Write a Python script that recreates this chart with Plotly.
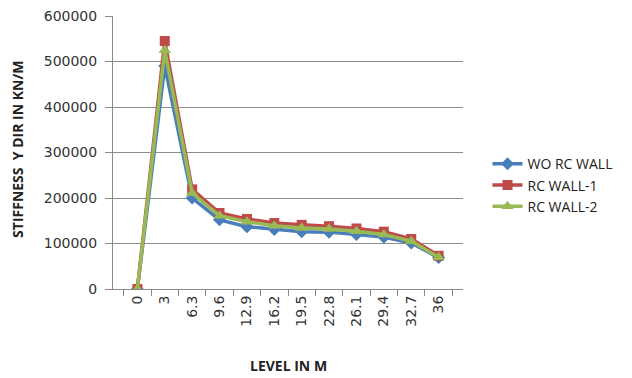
import plotly.graph_objects as go

levels = ["0", "3", "6.3", "9.6", "12.9", "16.2", "19.5", "22.8", "26.1", "29.4", "32.7", "36"]
wo_rc_wall = [0, 490000, 200000, 152000, 137000, 131000, 126000, 125000, 120000, 114000, 101000, 69000]
rc_wall_1 = [0, 545000, 219000, 167000, 154000, 145000, 141000, 138000, 133000, 126000, 110000, 73000]
rc_wall_2 = [0, 525000, 211000, 161000, 148000, 139000, 134000, 132000, 127000, 120000, 105000, 70000]
y_ticks = [0, 100000, 200000, 300000, 400000, 500000, 600000]

FONT = "Open Sans, Liberation Sans, Arial, sans-serif"
TICKFONT = "DejaVu Sans, Open Sans, sans-serif"

fig = go.Figure()
fig.add_trace(go.Scatter(x=levels, y=wo_rc_wall, name="WO RC WALL", mode="lines+markers",
                         line=dict(color="#4A7EBB", width=3.5),
                         marker=dict(symbol="diamond", size=10, color="#4A7EBB")))
fig.add_trace(go.Scatter(x=levels, y=rc_wall_1, name="RC WALL-1", mode="lines+markers",
                         line=dict(color="#BE4B48", width=3.5),
                         marker=dict(symbol="square", size=10, color="#BE4B48")))
fig.add_trace(go.Scatter(x=levels, y=rc_wall_2, name="RC WALL-2", mode="lines+markers",
                         line=dict(color="#98B954", width=3.5),
                         marker=dict(symbol="triangle-up", size=11, color="#98B954")))

fig.update_layout(
    width=632, height=378,
    margin=dict(l=105, r=177, t=8, b=97, autoexpand=False),
    paper_bgcolor="white", plot_bgcolor="white",
    font=dict(family=FONT, size=14, color="#333333"),
    legend=dict(x=1.07, y=0.38, xanchor="left", yanchor="middle",
                font=dict(family=FONT, size=14, color="#222222"), tracegroupgap=4,
                bgcolor="rgba(0,0,0,0)"),
    showlegend=True,
    annotations=[
        dict(text="<b>STIFFNESS  Y DIR IN KN/M</b>", xref="paper", yref="paper",
             x=-0.271, y=0.51, xanchor="center", yanchor="middle",
             textangle=-90, showarrow=False,
             font=dict(family=FONT, size=14, color="#222222")),
        dict(text="<b>LEVEL IN M</b>", xref="paper", yref="paper",
             x=0.5, y=-0.282, xanchor="center", yanchor="middle", showarrow=False,
             font=dict(family=FONT, size=14, color="#222222")),
    ],
)
fig.update_xaxes(
    type="category", tickangle=-90, tickson="boundaries", ticks="outside", ticklen=6,
    tickcolor="#888888", showline=True, linecolor="#888888", linewidth=1,
    showgrid=False, automargin=False, ticklabeloverflow="allow",
    tickfont=dict(family=TICKFONT, size=14, color="#333333"),
)
fig.update_yaxes(
    range=[0, 600000], tickvals=y_ticks, ticktext=[str(v) for v in y_ticks],
    showgrid=True, gridcolor="#8C8C8C", gridwidth=1,
    showline=True, linecolor="#888888", linewidth=1,
    ticks="outside", ticklen=7, tickcolor="#888888", ticklabelstandoff=5,
    zeroline=False, automargin=False, ticklabeloverflow="allow",
    tickfont=dict(family=TICKFONT, size=14, color="#333333"),
)

fig.write_html("out.html")
